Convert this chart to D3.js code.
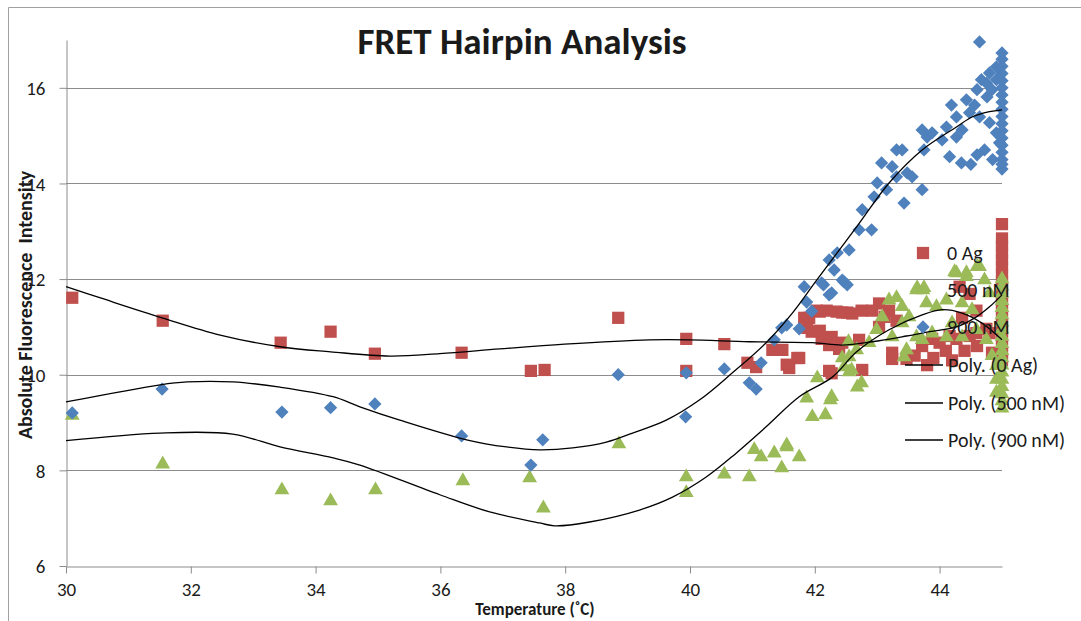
<!DOCTYPE html>
<html>
<head>
<meta charset="utf-8">
<script src="https://cdn.jsdelivr.net/npm/d3@7"></script>
<style>
  body { margin: 0; background: #fff; }
  svg text { font-family: Carlito, Calibri, Lato, sans-serif; fill: #1a1a1a; }
</style>
</head>
<body>
<div id="chart"></div>
<script>
// 数据 (温度 ˚C, 荧光强度)
var xTicks = [30, 32, 34, 36, 38, 40, 42, 44];
var yTicks = [6, 8, 10, 12, 14, 16];
var seriesNames = ["0 Ag", "500 nM", "900 nM"];
var trendNames = ["Poly. (0 Ag)", "Poly. (500 nM)", "Poly. (900 nM)"];

var data0Ag = [
  [30.1, 11.61], [31.55, 11.13], [33.44, 10.67], [34.24, 10.90], [34.95, 10.44], [36.34, 10.46],
  [37.45, 10.08], [37.67, 10.10], [38.85, 11.19], [39.94, 10.75], [39.94, 10.08], [40.55, 10.64],
  [40.92, 10.25], [41.06, 10.16], [41.32, 10.52], [41.48, 10.52], [41.55, 10.21], [41.72, 10.35],
  [41.83, 11.19], [41.95, 10.90], [42.08, 11.32], [42.11, 10.75], [42.35, 11.32], [42.52, 11.30],
  [42.23, 10.62], [42.39, 10.54], [42.23, 10.08], [41.75, 10.35], [41.59, 10.14], [41.91, 11.19],
  [42.03, 11.34], [41.88, 10.98], [42.08, 10.92], [42.19, 11.34], [42.44, 11.30], [42.60, 11.28],
  [42.75, 11.34], [42.92, 11.34], [43.03, 11.49], [43.19, 11.34], [43.31, 11.13], [42.27, 10.79],
  [42.44, 10.67], [42.71, 10.73], [43.03, 11.0], [43.12, 11.21], [42.27, 10.03], [42.76, 10.10],
  [43.24, 10.46], [43.24, 10.33], [43.47, 10.33], [43.72, 10.60], [43.88, 10.75], [44.0, 10.67],
  [44.16, 10.81], [44.27, 10.75], [44.48, 10.81], [44.59, 10.87], [44.75, 10.96], [44.32, 11.84],
  [44.48, 11.69], [44.36, 11.19], [44.59, 11.34], [44.80, 10.87], [44.84, 10.46], [44.96, 10.25],
  [43.6, 10.4], [43.9, 10.35], [44.1, 10.5], [44.4, 10.5], [44.6, 10.6], [44.2, 10.3], [43.8, 10.2],
  [45, 13.15], [45, 12.85], [45, 12.7], [45, 12.55], [45, 12.4], [45, 12.25], [45, 12.1], [45, 11.95],
  [45, 11.8], [45, 11.65], [45, 11.5], [45, 11.35], [45, 11.2], [45, 11.05], [45, 10.9], [45, 10.75],
  [45, 10.6], [45, 10.45], [45, 10.3]
];

var data500 = [
  [30.1, 9.15], [31.55, 8.13], [33.46, 7.59], [34.24, 7.36], [34.96, 7.59], [36.36, 7.78],
  [37.43, 7.84], [37.65, 7.21], [38.86, 8.55], [39.94, 7.86], [39.94, 7.53], [40.55, 7.92],
  [40.95, 7.86], [41.03, 8.43], [41.14, 8.28], [41.35, 8.36], [41.47, 8.05], [41.55, 8.53],
  [41.75, 8.28], [41.87, 9.51], [41.96, 9.12], [42.17, 9.16], [42.25, 9.47], [42.04, 9.93],
  [42.47, 10.16], [42.55, 10.06], [42.54, 10.69], [42.44, 10.35], [42.68, 9.74], [42.27, 9.54],
  [42.59, 10.10], [42.75, 9.83], [42.55, 10.37], [42.67, 10.52], [42.87, 10.67], [42.99, 10.94],
  [43.08, 11.21], [43.19, 11.56], [43.31, 11.61], [43.40, 11.42], [43.51, 11.21], [43.40, 11.08],
  [43.24, 10.79], [43.47, 10.52], [43.43, 10.37], [43.63, 11.77], [43.79, 11.50], [43.95, 11.42],
  [44.11, 11.56], [44.27, 12.13], [44.43, 12.05], [44.60, 12.26], [44.72, 11.98], [44.80, 11.71],
  [44.36, 11.50], [44.52, 11.36], [44.20, 11.08], [43.88, 10.87], [44.11, 10.79], [44.36, 10.79],
  [44.59, 10.94], [44.75, 10.73], [43.72, 10.73], [43.63, 10.79], [44.84, 10.40], [44.91, 10.19],
  [44.91, 9.90], [44.91, 9.63], [43.64, 11.82], [43.75, 11.82], [44.24, 12.15], [44.43, 12.13],
  [44.64, 12.26], [41.55, 8.49],
  [45, 12.0], [45, 11.85], [45, 11.7], [45, 11.55], [45, 11.4], [45, 11.25], [45, 11.1], [45, 10.95],
  [45, 10.8], [45, 10.65], [45, 10.5], [45, 10.35], [45, 10.2], [45, 10.05], [45, 9.9], [45, 9.75],
  [45, 9.6], [45, 9.45], [45, 9.3]
];

var data900 = [
  [30.1, 9.2], [31.54, 9.70], [33.46, 9.22], [34.24, 9.31], [34.95, 9.39], [36.34, 8.72],
  [37.45, 8.11], [37.64, 8.64], [38.85, 10.0], [39.94, 10.04], [39.93, 9.12], [40.55, 10.12],
  [40.95, 9.83], [41.06, 9.70], [41.14, 10.25], [41.35, 10.73], [41.47, 10.98], [41.55, 11.04],
  [41.75, 10.96], [41.87, 11.52], [41.95, 11.33], [41.83, 11.84], [42.14, 11.88], [42.23, 11.67],
  [42.47, 11.94], [42.52, 11.88], [42.11, 11.92], [42.27, 11.71], [42.44, 11.98], [42.31, 12.19],
  [42.23, 12.40], [42.36, 12.55], [42.55, 12.61], [42.71, 13.03], [42.91, 13.03], [42.76, 13.45],
  [42.95, 13.72], [43.0, 14.01], [43.15, 13.87], [43.43, 13.59], [43.31, 14.14], [43.48, 14.22],
  [43.07, 14.43], [43.24, 14.35], [43.31, 14.70], [43.40, 14.70], [43.56, 14.14], [43.72, 13.87],
  [43.75, 14.70], [43.80, 14.97], [43.72, 15.12], [43.88, 15.06], [44.04, 14.91], [44.11, 15.18],
  [44.27, 14.97], [44.36, 15.12], [44.35, 14.43], [44.16, 14.56], [44.27, 15.39], [44.19, 15.64],
  [44.48, 15.48], [44.43, 15.75], [44.56, 15.64], [44.60, 15.96], [44.67, 16.17], [44.64, 16.96],
  [44.75, 16.10], [44.80, 16.31], [44.91, 16.44], [44.91, 16.17], [44.84, 15.96], [44.76, 15.81],
  [44.64, 15.39], [44.80, 15.27], [44.91, 15.06], [44.96, 14.85], [44.72, 14.7], [44.85, 14.5],
  [44.6, 14.6], [44.5, 14.4],
  [45, 16.73], [45, 16.6], [45, 16.45], [45, 16.3], [45, 16.15], [45, 16.0], [45, 15.85], [45, 15.7],
  [45, 15.55], [45, 15.4], [45, 15.25], [45, 15.1], [45, 14.95], [45, 14.8], [45, 14.65], [45, 14.5],
  [45, 14.4], [45, 14.3]
];

// 趋势线 (读图得到的多项式曲线点)
var trend0Ag = [
  [30.0, 11.84], [30.54, 11.61], [31.54, 11.19], [32.47, 10.83], [33.46, 10.58], [34.24, 10.48],
  [35.19, 10.39], [35.99, 10.44], [36.95, 10.54], [37.99, 10.64], [39.35, 10.73], [39.99, 10.73],
  [40.95, 10.69], [41.96, 10.67], [42.44, 10.62], [42.92, 10.69], [43.47, 10.81], [43.84, 10.90],
  [44.27, 11.0], [44.59, 11.21], [44.80, 11.42], [45.0, 11.67]
];
var trend500 = [
  [30.0, 8.62], [31.51, 8.78], [32.67, 8.76], [33.43, 8.49], [34.28, 8.26], [34.71, 8.11],
  [35.99, 7.49], [36.79, 7.13], [37.59, 6.90], [37.83, 6.84], [38.39, 6.92], [39.19, 7.17],
  [39.72, 7.44], [40.26, 7.86], [40.74, 8.36], [41.22, 8.91], [41.75, 9.54], [42.28, 9.95],
  [42.67, 10.48], [43.19, 10.94], [43.72, 11.25], [44.04, 11.36], [44.36, 11.29], [44.68, 11.08],
  [45.0, 10.73]
];
var trend900 = [
  [30.0, 9.43], [31.51, 9.79], [31.94, 9.85], [32.67, 9.85], [33.43, 9.74], [34.28, 9.54],
  [34.71, 9.33], [35.35, 9.05], [36.42, 8.64], [37.06, 8.49], [37.59, 8.43], [38.12, 8.47],
  [38.66, 8.59], [39.08, 8.78], [39.62, 9.05], [40.15, 9.47], [40.68, 10.04], [41.22, 10.67],
  [41.64, 11.29], [42.03, 11.98], [42.67, 13.09], [43.19, 14.01], [43.72, 14.70], [44.27, 15.18],
  [44.52, 15.39], [44.80, 15.50], [45.0, 15.54]
];

var colors = ["#C0504D", "#9BBB59", "#4F81BD"];

var widthx = 1081;
var heighty = 621;
var margin = {top: 40, right: 79, bottom: 55, left: 66},
    width = widthx - margin.left - margin.right,
    height = heighty - margin.top - margin.bottom;

var svg0 = d3.select("#chart")
    .append("svg")
    .attr("width", widthx)
    .attr("height", heighty);

// 外框
svg0.append("path")
    .attr("d", "M8.5,621V7.5H1081")
    .attr("fill", "none")
    .attr("stroke", "#a0a0a0")
    .attr("stroke-width", 1);

var svg = svg0.append("g")
    .attr("transform", "translate(" + margin.left + "," + margin.top + ")");

var x = d3.scaleLinear().domain([30, 45]).range([0, width]);
var y = d3.scaleLinear().domain([6, 17]).range([height, 0]);

// 网格线
svg.append("g")
    .selectAll("line")
    .data(yTicks.filter(function(d) { return d > 6; }))
    .enter().append("line")
    .attr("x1", 0)
    .attr("x2", width)
    .attr("y1", function(d) { return Math.round(y(d)) + 0.5; })
    .attr("y2", function(d) { return Math.round(y(d)) + 0.5; })
    .attr("stroke", "#8c8c8c");

// 坐标轴
var xAxis = svg.append("g")
    .attr("transform", "translate(0," + (Math.round(height) + 0.5) + ")")
    .call(d3.axisBottom(x).tickValues(xTicks).tickSize(7).tickSizeOuter(0).tickFormat(d3.format("d")));
var yAxis = svg.append("g")
    .attr("transform", "translate(0.5,0)")
    .call(d3.axisLeft(y).tickValues(yTicks).tickSize(7).tickSizeOuter(0).tickFormat(d3.format("d")));

[xAxis, yAxis].forEach(function(a) {
  a.select(".domain").attr("stroke", "#8c8c8c");
  a.selectAll(".tick line").attr("stroke", "#8c8c8c");
  a.selectAll(".tick text")
    .style("font-family", "Carlito, Calibri, Lato, sans-serif")
    .style("font-size", "19px")
    .attr("fill", "#1a1a1a");
});
xAxis.selectAll(".tick text").attr("dy", "0").attr("y", 29);
yAxis.selectAll(".tick text").attr("x", -21).attr("dy", "0.35em");

// 标题
svg0.append("text")
    .attr("x", 522)
    .attr("y", 54)
    .attr("text-anchor", "middle")
    .style("font-size", "37px")
    .style("font-weight", "bold")
    .text("FRET Hairpin Analysis");

svg0.append("text")
    .attr("x", 535)
    .attr("y", 615)
    .attr("text-anchor", "middle")
    .style("font-size", "17px")
    .style("font-weight", "bold")
    .text("Temperature (˚C)");

svg0.append("text")
    .attr("transform", "translate(32,305) rotate(-90)")
    .attr("text-anchor", "middle")
    .style("font-size", "20px")
    .style("font-weight", "bold")
    .style("white-space", "pre")
    .text("Absolute Fluorescence  Intensity");

// 标记
var sq = d3.symbol().type(d3.symbolSquare).size(150);
var dia = d3.symbol().type(d3.symbolSquare).size(88);
var tri = d3.symbol().type(d3.symbolTriangle).size(95);

function drawSeries(data, sym, color, rot) {
  svg.append("g").selectAll("path")
      .data(data)
      .enter().append("path")
      .attr("d", sym)
      .attr("fill", color)
      .attr("transform", function(d) {
        return "translate(" + x(d[0]) + "," + y(d[1]) + ")" + (rot ? " rotate(45)" : "");
      });
}
drawSeries(data0Ag, sq, colors[0], false);
drawSeries(data500, tri, colors[1], false);
drawSeries(data900, dia, colors[2], true);

// 趋势线
var line = d3.line()
    .x(function(d) { return x(d[0]); })
    .y(function(d) { return y(d[1]); })
    .curve(d3.curveCatmullRom);

[trend0Ag, trend500, trend900].forEach(function(t) {
  svg.append("path")
      .datum(t)
      .attr("d", line)
      .attr("fill", "none")
      .attr("stroke", "#000")
      .attr("stroke-width", 1.3);
});

// 图例
var legend = svg0.append("g");
var legendY = [253, 290, 327];
var legendSym = [sq, tri, dia];
seriesNames.forEach(function(name, i) {
  legend.append("path")
      .attr("d", legendSym[i])
      .attr("fill", colors[i])
      .attr("transform", "translate(923," + legendY[i] + ")" + (i == 2 ? " rotate(45)" : ""));
  legend.append("text")
      .attr("x", 947)
      .attr("y", legendY[i])
      .attr("dy", "0.35em")
      .style("font-size", "20px")
      .text(name);
});
var trendY = [365, 403, 440];
trendNames.forEach(function(name, i) {
  legend.append("line")
      .attr("x1", 905).attr("x2", 943)
      .attr("y1", trendY[i]).attr("y2", trendY[i])
      .attr("stroke", "#000")
      .attr("stroke-width", 1.3);
  legend.append("text")
      .attr("x", 948)
      .attr("y", trendY[i])
      .attr("dy", "0.35em")
      .style("font-size", "20px")
      .text(name);
});
</script>
</body>
</html>
